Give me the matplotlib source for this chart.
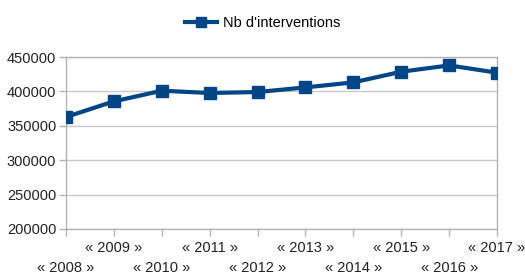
import numpy as np
import matplotlib
matplotlib.use("Agg")
import matplotlib.pyplot as plt

# data
years = ["2008", "2009", "2010", "2011", "2012", "2013", "2014", "2015", "2016", "2017"]
interventions = [362800, 385500, 401000, 397700, 399100, 405800, 413100, 428600, 437800, 427200]
series_name = "Nb d'interventions"
yticks = [200000, 250000, 300000, 350000, 400000, 450000]

plt.rcParams['font.family'] = ['Liberation Sans', 'DejaVu Sans']

fig = plt.figure(figsize=(5.25, 2.75), dpi=100)
ax = fig.add_axes([0.1257, 0.1673, 0.821, 0.6254])

x = np.arange(len(years))
ax.plot(x, interventions, color="#004586", lw=3, marker="s", ms=8,
        label=series_name, zorder=3)

ax.set_xlim(0, len(years) - 1)
ax.set_ylim(200000, 450000)
ax.set_yticks(yticks)
ax.set_yticklabels([str(v) for v in yticks], fontsize=10.5, color="#222222")
ax.yaxis.grid(True, color="#c8c8c8", lw=1)
ax.set_axisbelow(True)

# staggered x labels, like the spreadsheet export
ax.set_xticks(x)
ax.set_xticklabels([])
ax.tick_params(axis="x", length=5, color="#b3b3b3", width=1)
ax.tick_params(axis="y", length=5, color="#b3b3b3", width=1, pad=2)
for i, yr in enumerate(years):
    off = -0.11 if i % 2 == 1 else -0.225
    ax.text(i, off, "\u00ab " + yr + " \u00bb", transform=ax.get_xaxis_transform(),
            ha="center", va="center", fontsize=10.5, color="#222222")

for s in ax.spines.values():
    s.set_color("#b3b3b3")
    s.set_linewidth(1)

fig.legend(loc="upper center", bbox_to_anchor=(0.5, 0.99), frameon=False,
           fontsize=10.5, handlelength=2.2, handletextpad=0.4, markerscale=0.85)

fig.savefig("out.png", dpi=100)
